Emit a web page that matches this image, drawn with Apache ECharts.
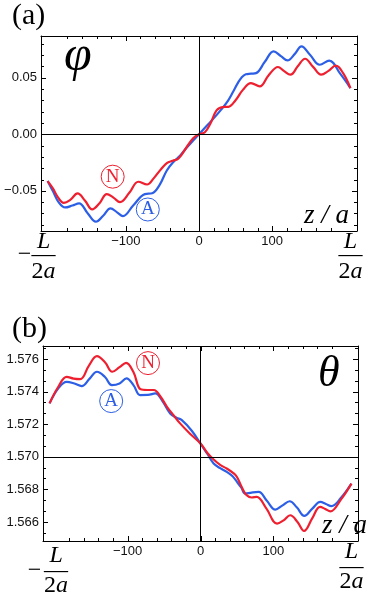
<!DOCTYPE html>
<html>
<head>
<meta charset="utf-8">
<script src="https://cdn.jsdelivr.net/npm/echarts@6/dist/echarts.min.js"></script>
<style>
  html, body { margin: 0; padding: 0; background: #fff; }
  #chart { width: 370px; height: 599px; }
</style>
</head>
<body>
<div id="chart"></div>
<script>
// (a) phi vs z/a  — N (red) and A (blue)
const phiNz = [-207, -200, -193, -185, -176, -166, -156, -146, -136, -126, -117, -108, -95, -83, -71, -62, -53, -44, -36, -28, -17, -8, 0, 8, 16, 24, 32, 40, 50, 60, 71, 83, 95, 108, 116, 125, 135, 145, 156, 167, 177, 187, 197, 207]
const phiNv = [-0.0414, -0.0475, -0.0555, -0.0606, -0.0580, -0.0523, -0.0585, -0.0664, -0.0610, -0.0529, -0.0560, -0.0600, -0.0515, -0.0420, -0.0444, -0.0390, -0.0317, -0.0255, -0.0235, -0.0215, -0.0115, -0.0035, 0, 0.0018, 0.0100, 0.0210, 0.0240, 0.0242, 0.0300, 0.0392, 0.0452, 0.0423, 0.0520, 0.0594, 0.0560, 0.0526, 0.0600, 0.0667, 0.0595, 0.0526, 0.0560, 0.0606, 0.0540, 0.0408]
const phiAz = [-207, -200, -192, -183, -173, -164, -152, -141, -131, -121, -112, -104, -90, -74, -64, -54, -44, -35, -26, -17, -8, 0, 10, 20, 30, 40, 47, 53, 58, 64, 71, 78, 90, 102, 112, 121, 131, 140, 152, 165, 178, 193, 207]
const phiAv = [-0.0414, -0.0500, -0.0600, -0.0647, -0.0630, -0.0611, -0.0700, -0.0773, -0.0720, -0.0655, -0.0690, -0.0723, -0.0630, -0.0529, -0.0522, -0.0450, -0.0320, -0.0245, -0.0190, -0.0120, -0.0055, 0, 0.0070, 0.0140, 0.0215, 0.0300, 0.0380, 0.0452, 0.0500, 0.0530, 0.0535, 0.0540, 0.0640, 0.0732, 0.0690, 0.0653, 0.0710, 0.0776, 0.0700, 0.0614, 0.0650, 0.0535, 0.0408]

// (b) theta vs z/a
const thNz = [-207, -195, -183.5, -174, -165, -153, -142, -131, -121, -111, -102, -92, -82, -73, -64, -55, -46, -37, -28, -14, 0, 10, 18, 27, 36, 45, 50, 57, 63, 70, 77, 90, 105, 114, 123, 133, 142, 153, 164, 171, 178, 193, 207]
const thNv = [1.57328, 1.57430, 1.57491, 1.57480, 1.57477, 1.57560, 1.57618, 1.57580, 1.57522, 1.57550, 1.57577, 1.57520, 1.57414, 1.57410, 1.57410, 1.57370, 1.57307, 1.57255, 1.57205, 1.57140, 1.57081, 1.57020, 1.56983, 1.56950, 1.56928, 1.56900, 1.56876, 1.56810, 1.56765, 1.56750, 1.56754, 1.56685, 1.56590, 1.56610, 1.56641, 1.56600, 1.56545, 1.56620, 1.56692, 1.56680, 1.56665, 1.56740, 1.56835]
const thAz = [-207, -195, -183.5, -173, -163, -152, -142, -131, -121.5, -111, -101.5, -92, -82.8, -72, -62, -52, -41.6, -33, -25.6, -12, 0, 9, 18, 27, 36, 44, 50, 56, 61.4, 70, 79.7, 91, 102.6, 112, 122.3, 132, 142.4, 153, 164.4, 172, 179.5, 193, 207]
const thAv = [1.57328, 1.57420, 1.57460, 1.57450, 1.57434, 1.57480, 1.57522, 1.57490, 1.57440, 1.57450, 1.57481, 1.57440, 1.57379, 1.57380, 1.57389, 1.57340, 1.57266, 1.57240, 1.57225, 1.57160, 1.57081, 1.57020, 1.56959, 1.56930, 1.56907, 1.56880, 1.56846, 1.56810, 1.56774, 1.56780, 1.56784, 1.56730, 1.56676, 1.56700, 1.56727, 1.56690, 1.56637, 1.56680, 1.56723, 1.56710, 1.56697, 1.56750, 1.56835]

// ticks and labels
const zHalf = 207            // L/2a
const zLabels = [-100, 0, 100]
const zMajor = [-100, 0, 100]
const phiMajor = [-0.05, 0, 0.05]
const thMajor = [1.566, 1.568, 1.570, 1.572, 1.574, 1.576]

const RED = '#ee1f2f'
const BLUE = '#2d5fe6'
const SERIF = 'Liberation Serif'

function steps (lo, hi, step, base, skip) {
  const out = []
  for (let k = lo; k <= hi; k++) if (k % skip !== 0) out.push(+(base + k * step).toFixed(6))
  return out
}
const zMinor = steps(-10, 10, 20, 0, 5)
const phiMinor = steps(-8, 8, 0.01, 0, 5)
const thMinor = steps(-1, 16, 0.002 / 3, 1.566, 3)

function pairs (xs, ys) { return xs.map((x, i) => [x, ys[i]]) }

const numFmt = v => v === 0 ? '0' : (v < 0 ? '\u2212' : '') + Math.abs(v)

function axis (grid, pos, min, max, o) {
  return {
    gridIndex: grid,
    type: 'value',
    position: pos,
    min: min,
    max: max,
    axisLine: { show: !!o.line, onZero: false, lineStyle: { color: '#000', width: 1 } },
    splitLine: { show: false },
    axisTick: { show: false },
    axisLabel: o.labels
      ? Object.assign({ show: true, customValues: o.labels, formatter: o.fmt, margin: o.margin || 4, color: '#111', fontFamily: 'Liberation Sans', fontSize: 13, hideOverlap: false }, o.label || {})
      : { show: false }
  }
}

// the ±L/2a labels are stacked from pieces, each carried by its own bottom axis
function fracRich (f) {
  const base = { fontFamily: SERIF, fontSize: 24, color: '#000', lineHeight: 24 }
  const pad = [f.drop, f.padR, 0, f.padL]
  return {
    r: Object.assign({}, base),
    ri: Object.assign({}, base, { fontStyle: 'italic', lineHeight: 14 }),
    l: Object.assign({}, base, { padding: pad }),
    li: Object.assign({}, base, { fontStyle: 'italic', lineHeight: 14, padding: pad }),
    d: Object.assign({}, base, { padding: [f.drop, 0, 0, f.padL] }),
    a: Object.assign({}, base, { fontStyle: 'italic' }),
    al: Object.assign({}, base, { fontStyle: 'italic', padding: [f.drop, f.padR, 0, 0] })
  }
}

function zAxes (grid, f) {
  const rich = fracRich(f)
  const ends = [-zHalf, zHalf]
  return [
    axis(grid, 'bottom', -216, 216, {
      line: true, labels: zLabels.concat(ends), margin: 4,
      fmt: v => Math.abs(v) === zHalf ? (v < 0 ? '{li|L}' : '{ri|L}') : numFmt(v),
      label: { rich: rich }
    }),
    axis(grid, 'bottom', -216, 216, {
      labels: ends, margin: f.bar,
      fmt: v => v < 0 ? '{l|\u2014}' : '{r|\u2014}', label: { rich: rich }
    }),
    axis(grid, 'bottom', -216, 216, {
      labels: ends, margin: f.den,
      fmt: v => v < 0 ? '{d|2}{al|a}' : '{r|2}{a|a}', label: { rich: rich }
    }),
    axis(grid, 'bottom', -216, 216, {
      labels: [-zHalf], margin: f.bar,
      fmt: () => '{m|\u2212}',
      label: { rich: { m: { fontFamily: SERIF, fontSize: 24, color: '#000', lineHeight: 24, padding: [f.drop, f.minus, 0, 0] } } }
    }),
    axis(grid, 'top', -216, 216, { line: true })
  ]
}

function yAxes (grid, min, max, major, fmt) {
  return [
    axis(grid, 'left', min, max, { line: true, labels: major, fmt: fmt, margin: 4 }),
    axis(grid, 'right', min, max, { line: true })
  ]
}

// inward frame ticks on all four sides, placed through the axes' own scales.
// every item stays inside both axis ranges: [x, y, kind, length]
function tickSeries (xi, yi, xMid, yMid, xMajor, xMinor, yMajor, yMinor) {
  const data = [].concat(
    xMajor.map(v => [v, yMid, 0, 5]), xMinor.map(v => [v, yMid, 0, 3]),
    yMajor.map(v => [xMid, v, 1, 5]), yMinor.map(v => [xMid, v, 1, 3])
  )
  return {
    type: 'custom',
    xAxisIndex: xi,
    yAxisIndex: yi,
    silent: true,
    clip: false,
    z: 5,
    encode: { x: 0, y: 1 },
    data: data,
    renderItem: function (params, api) {
      const cs = params.coordSys
      const p = api.coord([api.value(0), api.value(1)])
      const len = api.value(3)
      const b = cs.y + cs.height
      const r = cs.x + cs.width
      if (api.value(2) === 0) {
        const x = Math.round(p[0]) + 0.5
        return { type: 'group', children: [
          { type: 'line', shape: { x1: x, y1: b, x2: x, y2: b - len }, style: { stroke: '#000', lineWidth: 1 } },
          { type: 'line', shape: { x1: x, y1: cs.y, x2: x, y2: cs.y + len }, style: { stroke: '#000', lineWidth: 1 } }
        ] }
      }
      const y = Math.round(p[1]) + 0.5
      return { type: 'group', children: [
        { type: 'line', shape: { x1: cs.x, y1: y, x2: cs.x + len, y2: y }, style: { stroke: '#000', lineWidth: 1 } },
        { type: 'line', shape: { x1: r, y1: y, x2: r - len, y2: y }, style: { stroke: '#000', lineWidth: 1 } }
      ] }
    }
  }
}

const xAxisList = [].concat(
  zAxes(0, { padL: 0, padR: 8, drop: 0, bar: 12, den: 29, minus: 46 }),
  zAxes(1, { padL: 13, padR: 0, drop: 7, bar: 14, den: 29, minus: 30 })
)
const yAxisList = [].concat(
  yAxes(0, -0.0855, 0.0868, phiMajor, v => (v < 0 ? '\u2212' : '') + Math.abs(v).toFixed(2)),
  yAxes(1, 1.56483, 1.5768, thMajor, v => v.toFixed(3))
)

function circ (letter, color, coord) {
  return {
    coord: coord,
    symbol: 'circle',
    symbolSize: 23,
    itemStyle: { color: '#fff', borderColor: color, borderWidth: 1 },
    label: { show: true, position: 'inside', formatter: letter, color: color, fontFamily: SERIF, fontSize: 19 }
  }
}

function curve (name, data, color, xi, yi, mark, axisY) {
  const s = {
    name: name,
    type: 'line',
    xAxisIndex: xi,
    yAxisIndex: yi,
    data: data,
    smooth: 0.4,
    symbol: 'none',
    lineStyle: { color: color, width: 2.2 },
    itemStyle: { color: color },
    markPoint: { silent: true, animation: false, data: [mark] }
  }
  if (axisY !== undefined) {
    s.markLine = {
      silent: true,
      animation: false,
      symbol: ['none', 'none'],
      label: { show: false },
      lineStyle: { color: '#000', width: 1, type: 'solid' },
      data: [{ xAxis: 0 }, { yAxis: axisY }]
    }
  }
  return s
}

const chart = echarts.init(document.getElementById('chart'))
chart.setOption({
  animation: false,
  backgroundColor: '#fff',
  grid: [
    { left: 41, top: 36, width: 316, height: 195, outerBoundsMode: 'none' },
    { left: 43, top: 346, width: 315, height: 195, outerBoundsMode: 'none' }
  ],
  xAxis: xAxisList,
  yAxis: yAxisList,
  series: [
    curve('A', pairs(phiAz, phiAv), BLUE, 0, 0, circ('A', BLUE, [-70, -0.0665]), 0),
    curve('N', pairs(phiNz, phiNv), RED, 0, 0, circ('N', RED, [-118, -0.0375])),
    curve('A', pairs(thAz, thAv), BLUE, 5, 2, circ('A', BLUE, [-122.5, 1.57342]), Math.PI / 2),
    curve('N', pairs(thNz, thNv), RED, 5, 2, circ('N', RED, [-72, 1.57575])),
    tickSeries(0, 0, 0, 0, zMajor, zMinor, phiMajor, phiMinor),
    tickSeries(5, 2, 0, 1.571, zMajor, zMinor, thMajor, thMinor)
  ],
  graphic: [
    { type: 'text', x: 12, y: 1, style: { text: '(a)', fontFamily: SERIF, fontSize: 30, fill: '#000', textVerticalAlign: 'top' } },
    { type: 'text', x: 12, y: 314, style: { text: '(b)', fontFamily: SERIF, fontSize: 30, fill: '#000', textVerticalAlign: 'top' } },
    { type: 'text', x: 64, y: 32, style: { text: '\u03c6', fontFamily: SERIF, fontStyle: 'italic', fontSize: 50, fill: '#000', textVerticalAlign: 'top' } },
    { type: 'text', x: 318, y: 352, style: { text: '\u03b8', fontFamily: SERIF, fontStyle: 'italic', fontSize: 44, fill: '#000', textVerticalAlign: 'top' } },
    { type: 'text', x: 304, y: 202, style: { text: 'z / a', fontFamily: SERIF, fontStyle: 'italic', fontSize: 27, fill: '#000', textVerticalAlign: 'top' } },
    { type: 'text', x: 322, y: 512, style: { text: 'z / a', fontFamily: SERIF, fontStyle: 'italic', fontSize: 27, fill: '#000', textVerticalAlign: 'top' } }
  ]
})
</script>
</body>
</html>
